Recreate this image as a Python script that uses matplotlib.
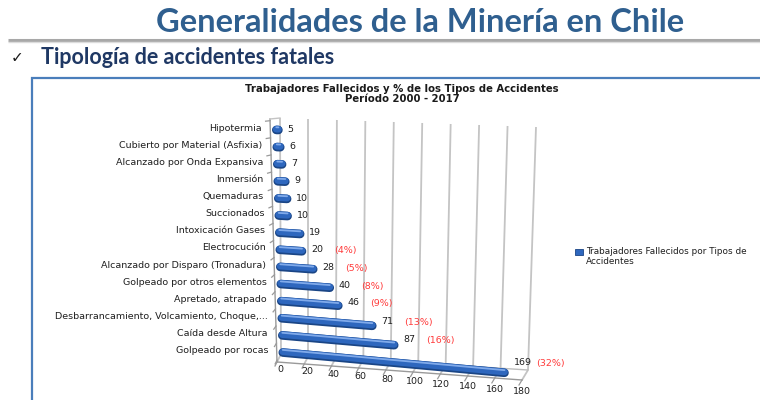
import numpy as np
import matplotlib
matplotlib.use("Agg")
import matplotlib.pyplot as plt
from matplotlib.transforms import Transform, ScaledTranslation
from matplotlib.patches import Rectangle

# datos: trabajadores fallecidos por tipo de accidente, 2000 - 2017
categorias = [
    "Hipotermia",
    "Cubierto por Material (Asfixia)",
    "Alcanzado por Onda Expansiva",
    "Inmersión",
    "Quemaduras",
    "Succionados",
    "Intoxicación Gases",
    "Electrocución",
    "Alcanzado por Disparo (Tronadura)",
    "Golpeado por otros elementos",
    "Apretado, atrapado",
    "Desbarrancamiento, Volcamiento, Choque,...",
    "Caída desde Altura",
    "Golpeado por rocas",
]
fallecidos = [5, 6, 7, 9, 10, 10, 19, 20, 28, 40, 46, 71, 87, 169]
porcentajes = [None, None, None, None, None, None, None, 4, 5, 8, 9, 13, 16, 32]
ticks_x = [0, 20, 40, 60, 80, 100, 120, 140, 160, 180]
x_max = 180


class Plano(Transform):
    """Proyeccion bilineal de un plano (u, v) a pixeles de la imagen."""
    input_dims = output_dims = 2
    is_separable = False
    has_inverse = False

    def __init__(self, p00, p10, p01, p11, urange, vrange):
        super().__init__()
        self.p = [np.array(p, float) for p in (p00, p10, p01, p11)]
        self.u0, self.u1 = urange
        self.v0, self.v1 = vrange

    def transform_non_affine(self, values):
        values = np.asarray(values, float).reshape(-1, 2)
        a = (values[:, 0:1] - self.u0) / (self.u1 - self.u0)
        b = (values[:, 1:2] - self.v0) / (self.v1 - self.v0)
        p00, p10, p01, p11 = self.p
        return (1 - a) * (1 - b) * p00 + a * (1 - b) * p10 + (1 - a) * b * p01 + a * b * p11


fig = plt.figure(figsize=(7.6, 4.0), dpi=100)
fig.patch.set_facecolor("white")
ax = fig.add_axes([0, 0, 1, 1])
ax.set_axis_off()
ax.set_autoscale_on(False)
ax.set_xlim(0, 760)
ax.set_ylim(400, 0)

n = len(categorias) - 1
barras = Plano((274, 129), (515, 138.5), (280.5, 351.5), (521.5, 373.5), (0, x_max), (0, n)) + ax.transData
rotulos = Plano((274, 129), (515, 134), (280.5, 351.5), (521.5, 362.5), (0, x_max), (0, n)) + ax.transData
pared = Plano((280, 118), (536, 127), (281, 354), (528, 370), (0, x_max), (0, 1)) + ax.transData
piso = Plano((281, 354), (528, 370), (277, 362), (522, 380), (0, x_max), (0, 1)) + ax.transData
lateral = Plano((270, 119), (280, 118), (277, 362), (281, 354), (0, 1), (-0.6, n + 0.6)) + ax.transData
eje_x = Plano((280, 369), (522, 392), (280, 369), (522, 392), (0, x_max), (0, 1)) + ax.transData

# encabezado de la lamina
ax.text(420, 22, "Generalidades de la Minería en Chile", ha="center", va="center",
        fontsize=23.5, fontweight="bold", color="#2f5f8f", family="Lato")
ax.plot([8, 760], [40, 40], color="#a8a8a8", lw=2.2, solid_capstyle="butt")
ax.plot([8, 760], [41.5, 41.5], color="#dcdcdc", lw=1.0, solid_capstyle="butt")
ax.text(17, 58, "✓", ha="center", va="center", fontsize=11, color="#1a1a1a", family="DejaVu Sans")
ax.text(41, 57, "Tipología de accidentes fatales", ha="left", va="center",
        fontsize=15.5, fontweight="bold", color="#1f3864", family="Lato")

# marco del grafico
ax.plot([32, 32, 760], [400, 78, 78], color="#4a7ebb", lw=1.6, solid_joinstyle="miter")

ax.text(402, 94, "Trabajadores Fallecidos y % de los Tipos de Accidentes\nPeríodo 2000 - 2017",
        ha="center", va="center", fontsize=7.3, fontweight="bold", color="#1a1a1a",
        linespacing=1.05, family="DejaVu Sans")

# pared del fondo con lineas de division
rejilla = dict(color="#c4c4c4", lw=1.3, solid_capstyle="butt")
for t in ticks_x:
    ax.plot([t, t], [0, 1], transform=pared, **rejilla)
    ax.plot([t, t], [0, 1], transform=piso, **rejilla)
    ax.plot([t, t], [1, 1.5], transform=piso, color="#9a9a9a", lw=0.9)
    ax.text(t, 0, str(t), transform=eje_x, ha="center", va="center",
            fontsize=6.8, color="#1f1f1f", family="DejaVu Sans")
ax.plot([0, x_max], [1, 1], transform=pared, color="#bdbdbd", lw=1.0)
ax.plot([0, x_max], [1, 1], transform=piso, color="#9a9a9a", lw=1.0)

# eje de categorias (borde lateral)
ax.plot([0, 0], [-0.6, n + 0.6], transform=lateral, color="#9a9a9a", lw=1.0)
ax.plot([0, 1], [-0.6, -0.6], transform=lateral, color="#c4c4c4", lw=1.0)
for k in np.arange(-0.5, n + 1, 1.0):
    ax.plot([0, -0.45], [k, k], transform=lateral, color="#9a9a9a", lw=0.9)

# barras cilindricas
sombra = barras + ScaledTranslation(0, -0.6 / 72, fig.dpi_scale_trans)
brillo = barras + ScaledTranslation(0, 1.3 / 72, fig.dpi_scale_trans)
for i, (nombre, valor) in enumerate(zip(categorias, fallecidos)):
    x0, x1 = 1.7, max(valor - 1.7, 1.7)
    ax.plot([x0, x1], [i, i], transform=sombra, color="#1a4585", lw=6.2, solid_capstyle="round")
    ax.plot([x0, x1], [i, i], transform=barras, color="#2e67be", lw=4.9, solid_capstyle="round")
    ax.plot([x0, x1], [i, i], transform=brillo, color="#80aaea", lw=1.3, solid_capstyle="round")
    ax.text(-9, i, nombre, transform=barras, ha="right", va="center",
            fontsize=6.8, color="#1f1f1f", family="DejaVu Sans")
    ax.text(valor + 5, i, str(valor), transform=rotulos, ha="left", va="center",
            fontsize=6.8, color="#1f1f1f", family="DejaVu Sans")
    if porcentajes[i] is not None:
        ax.text(valor + 22, i, f"({porcentajes[i]}%)", transform=rotulos, ha="left", va="center",
                fontsize=6.8, color="#ff3b3b", family="DejaVu Sans")

# leyenda
ax.add_patch(Rectangle((575, 248.5), 8, 6, facecolor="#2e67be", edgecolor="#1a4585", lw=0.6))
ax.text(586, 246.5, "Trabajadores Fallecidos por Tipos de\nAccidentes", ha="left", va="top",
        fontsize=6.4, color="#1f1f1f", linespacing=1.2, family="DejaVu Sans")

fig.savefig("out.png", dpi=100, facecolor="white")
